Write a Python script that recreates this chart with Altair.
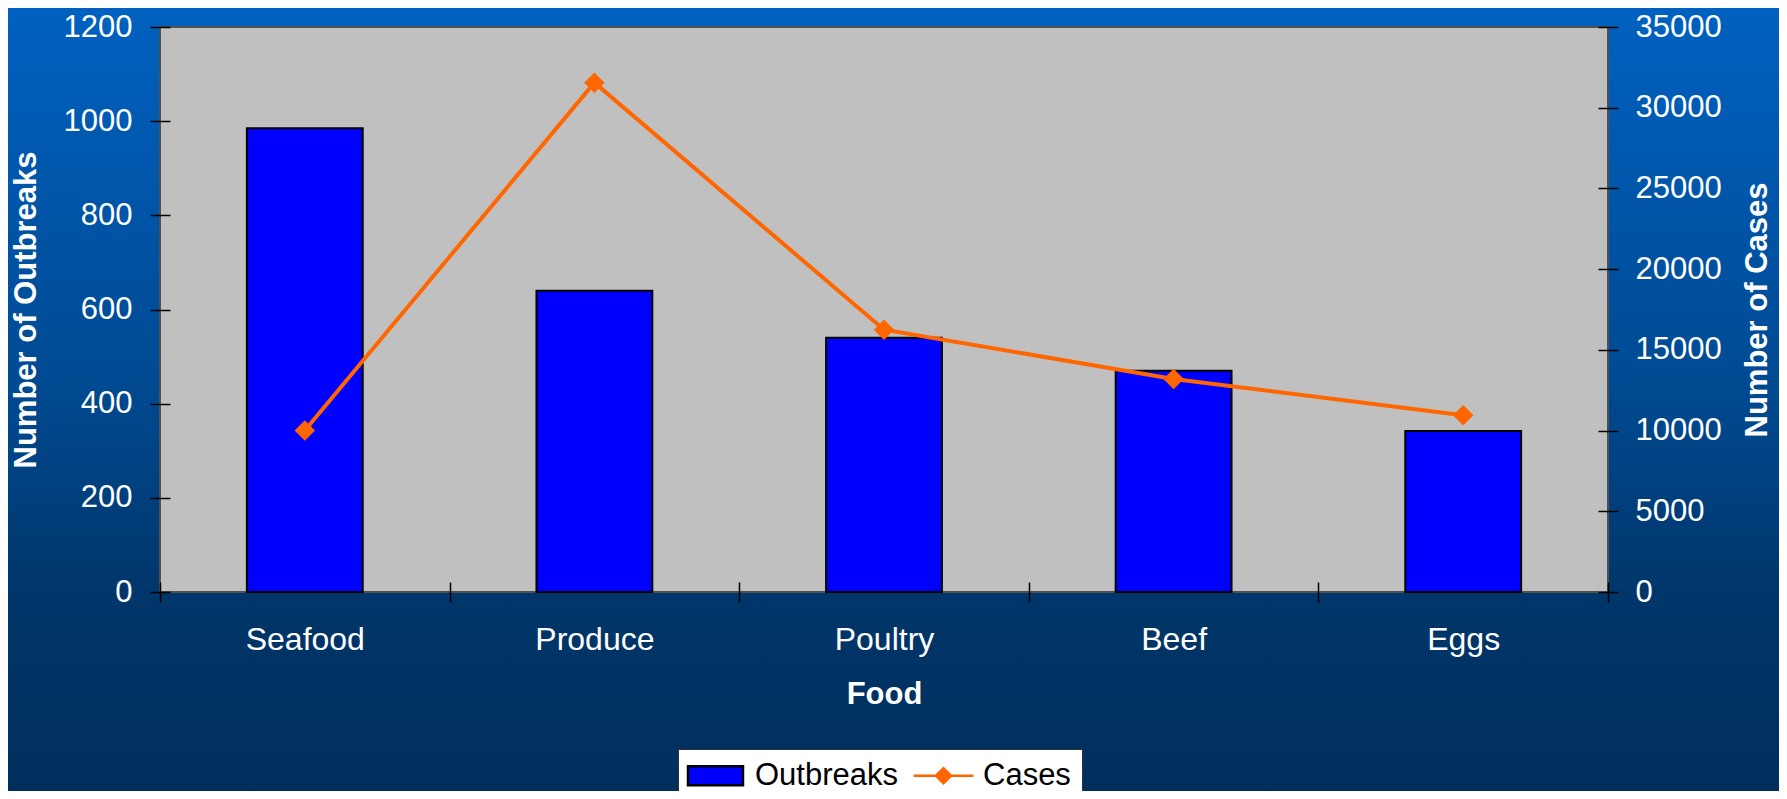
import altair as alt
import pandas as pd

# ---- data ----
foods = ["Seafood", "Produce", "Poultry", "Beef", "Eggs"]
outbreaks = [985, 640, 540, 470, 342]
cases = [10000, 31550, 16250, 13200, 10950]
series_names = ["Outbreaks", "Cases"]
left_ticks = [0, 200, 400, 600, 800, 1000, 1200]
right_ticks = [0, 5000, 10000, 15000, 20000, 25000, 30000, 35000]

df = pd.DataFrame({"Food": foods, "Outbreaks": outbreaks, "Cases": cases})
legend_df = pd.DataFrame({"series": series_names})
one_row = pd.DataFrame({"k": [0]})

# ---- layout / style ----
W, H = 1448, 565
PAD_L, PAD_T, PAD_R, PAD_B = 152, 19, 171, 199
FONT = "Liberation Sans"
BAR_BLUE = "#0000FF"
ORANGE = "#FF6600"

rect_path = "M-1.65,-0.95H3.85V0.95H-1.65Z"
line_path = "M-1.9,0H4.1M0.35,0L1.1,-0.75L1.85,0L1.1,0.75Z"

# background gradient (decoration)
bg = alt.Chart(one_row).mark_rect(
    fill=alt.LinearGradient(
        gradient="linear",
        stops=[
            alt.GradientStop(offset=0, color="#0061C0"),
            alt.GradientStop(offset=0.48, color="#004A92"),
            alt.GradientStop(offset=0.75, color="#00366A"),
            alt.GradientStop(offset=1, color="#002F5C"),
        ],
        x1=0, x2=0, y1=0, y2=1,
    ),
    strokeWidth=0,
).encode(
    x=alt.value(-PAD_L), x2=alt.value(W + PAD_R),
    y=alt.value(-PAD_T), y2=alt.value(H + PAD_B),
)

plot_bg = alt.Chart(one_row).mark_rect(
    fill="#C0C0C0", stroke="#505050", strokeWidth=2
).encode(
    x=alt.value(0), x2=alt.value("width"), y=alt.value(0), y2=alt.value("height")
)

x_enc = alt.X(
    "Food:N",
    sort=foods,
    scale=alt.Scale(paddingInner=0, paddingOuter=0),
    axis=alt.Axis(
        title="Food",
        tickBand="extent",
        offset=-10,
        tickSize=20,
        domain=False,
        labelAngle=0,
        labelPadding=22,
        labelFontSize=32,
        titleY=112,
        titleBaseline="middle",
        zindex=1,
    ),
)

bars = alt.Chart(df).mark_bar(
    color=BAR_BLUE, stroke="black", strokeWidth=2, width=alt.RelativeBandSize(0.4)
).encode(
    x=x_enc,
    y=alt.Y(
        "Outbreaks:Q",
        scale=alt.Scale(domain=[0, 1200], nice=False),
        axis=alt.Axis(
            title="Number of Outbreaks",
            orient="left",
            values=left_ticks,
            format="d",
            offset=-10,
            tickSize=20,
            domain=False,
            labelPadding=18,
            titleX=-144,
            titleY=H / 2,
            titleAngle=270,
            titleAlign="center",
            titleBaseline="middle",
            zindex=1,
        ),
    ),
)

line = alt.Chart(df).mark_line(
    color=ORANGE,
    strokeWidth=4,
    point=alt.OverlayMarkDef(shape="diamond", size=420, filled=True, color=ORANGE, opacity=1),
).encode(
    x=alt.X("Food:N", sort=foods),
    y=alt.Y(
        "Cases:Q",
        scale=alt.Scale(domain=[0, 35000], nice=False),
        axis=alt.Axis(
            title="Number of Cases",
            orient="right",
            values=right_ticks,
            format="d",
            offset=-10,
            tickSize=20,
            domain=False,
            labelPadding=17,
            titleX=159,
            titleY=H / 2,
            titleAngle=270,
            titleAlign="center",
            titleBaseline="middle",
            zindex=1,
        ),
    ),
)

legend_props = dict(
    title=None,
    orient="none",
    legendX=518,
    legendY=722,
    direction="horizontal",
    fillColor="white",
    strokeColor="#333333",
    padding=11,
    labelOffset=35,
    columnPadding=9,
    symbolSize=400,
    symbolOpacity=1,
    symbolStrokeWidth=2.5,
    labelFontSize=31,
    labelColor="black",
    labelFont=FONT,
    zindex=2,
)

leg = alt.Chart(legend_df).mark_point(opacity=0, filled=True).encode(
    fill=alt.Fill(
        "series:N",
        scale=alt.Scale(domain=series_names, range=[BAR_BLUE, ORANGE]),
        legend=alt.Legend(**legend_props),
    ),
    stroke=alt.Stroke(
        "series:N",
        scale=alt.Scale(domain=series_names, range=["#000000", ORANGE]),
        legend=alt.Legend(**legend_props),
    ),
    shape=alt.Shape(
        "series:N",
        scale=alt.Scale(domain=series_names, range=[rect_path, line_path]),
        legend=alt.Legend(**legend_props),
    ),
)

chart = (
    alt.layer(bg, plot_bg, bars, line, leg)
    .resolve_scale(y="independent")
    .properties(
        width=W,
        height=H,
        autosize=alt.AutoSizeParams(type="none"),
        padding={"left": PAD_L, "top": PAD_T, "right": PAD_R, "bottom": PAD_B},
        background="#004A92",
    )
    .configure(font=FONT)
    .configure_view(strokeWidth=0)
    .configure_axis(
        labelColor="white",
        labelFont=FONT,
        labelFontSize=31,
        titleColor="white",
        titleFont=FONT,
        titleFontSize=31,
        titleFontWeight="bold",
        tickColor="black",
        tickWidth=1.5,
        grid=False,
    )
)

chart.save("out.html", embed_options={"renderer": "svg", "actions": False})
